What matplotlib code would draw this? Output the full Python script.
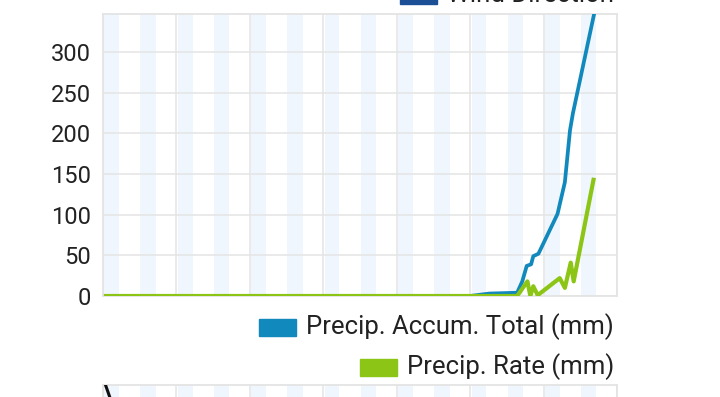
import matplotlib
matplotlib.use("Agg")
import matplotlib.pyplot as plt
from matplotlib.patches import Rectangle

plt.rcParams['font.family'] = ['Roboto', 'DejaVu Sans']

# x in days from the left edge of the chart
accum_x = [0.04, 5.0, 5.26, 5.64, 5.71, 5.77, 5.83, 5.86, 5.93, 6.19, 6.29, 6.36, 6.40, 6.70]
accum_y = [0, 0, 3, 4, 18, 37, 39, 49, 52, 101, 140, 204, 225, 352]

rate_x = [0.04, 5.64, 5.78, 5.82, 5.86, 5.92, 6.22, 6.29, 6.37, 6.41, 6.68]
rate_y = [0, 0, 18, 0, 12, 1, 22, 10, 41, 18, 143]

# start of the wind direction chart below (only its top edge shows)
wind_x = [0.0, 0.12]
wind_y = [372, 330]

y_ticks = [0, 50, 100, 150, 200, 250, 300]
n_days = 7

blue = '#1289bd'
green = '#8cc516'
stripe = '#f0f6fd'
grid = '#e4e4e4'

W, H = 720, 397
fig = plt.figure(figsize=(7.2, 3.97), dpi=100)


def px(x0, y0, x1, y1):
    # pixel box (top-left origin) -> figure fraction rect
    return [x0 / W, 1 - y1 / H, (x1 - x0) / W, (y1 - y0) / H]


def style_axes(ax):
    for d in range(n_days):
        ax.axvspan(d + 0.02, d + 0.22, color=stripe, lw=0, zorder=0)
        ax.axvspan(d + 0.51, d + 0.72, color=stripe, lw=0, zorder=0)
    ax.set_xlim(0, n_days)
    ax.set_xticks(range(n_days + 1))
    ax.grid(True, color=grid, lw=1.1, zorder=1)
    ax.set_axisbelow(True)
    for s in ax.spines.values():
        s.set_color(grid)
        s.set_linewidth(1.3)
    ax.tick_params(length=0, labelbottom=False)


ax = fig.add_axes(px(103, 14, 617, 296))
style_axes(ax)
ax.plot(accum_x, accum_y, color=blue, lw=2.7, zorder=3, solid_joinstyle='round')
ax.plot(rate_x, rate_y, color=green, lw=3.0, zorder=4, solid_joinstyle='round')
ax.set_ylim(0, 347)
ax.set_yticks(y_ticks)
ax.set_yticklabels([str(v) for v in y_ticks])
ax.tick_params(axis='y', labelsize=17, labelcolor='#222222', pad=8.5)

ax2 = fig.add_axes(px(103, 385, 617, 600))
style_axes(ax2)
ax2.set_ylim(0, 360)
ax2.set_yticks([])
ax2.plot(wind_x, wind_y, color='#111111', lw=2.2, zorder=3)

# legend items drawn as figure texts with colour boxes
legend_items = [
    ('Wind Direction', '#1d4f96', 2),
    ('Precip. Accum. Total (mm)', blue, 334),
    ('Precip. Rate (mm)', green, 374),
]
for label, col, base in legend_items:
    t = fig.text(614 / W, 1 - base / H, label, ha='right', va='baseline',
                 fontsize=18.5, color='#222222')
    fig.canvas.draw()
    bb = t.get_window_extent()
    x1 = bb.x0 - 10
    fig.patches.append(Rectangle(((x1 - 37) / W, 1 - (base + 2) / H), 37 / W, 17 / H,
                                 transform=fig.transFigure, color=col))

fig.savefig('out.png', dpi=100)
